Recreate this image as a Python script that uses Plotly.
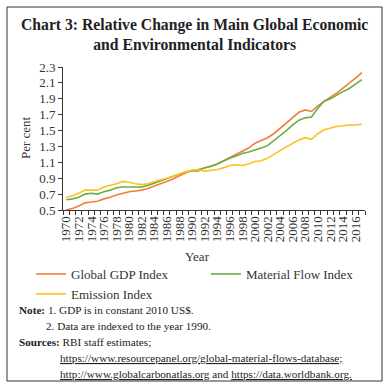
import plotly.graph_objects as go

years = list(range(1970, 2018))
gdp_index = [0.50, 0.52, 0.55, 0.59, 0.60, 0.61, 0.64, 0.66, 0.69, 0.71,
             0.73, 0.74, 0.75, 0.77, 0.80, 0.83, 0.86, 0.89, 0.93, 0.97,
             1.00, 1.01, 1.03, 1.05, 1.08, 1.12, 1.16, 1.20, 1.23, 1.28,
             1.34, 1.37, 1.41, 1.46, 1.53, 1.59, 1.66, 1.73, 1.76, 1.74,
             1.81, 1.87, 1.92, 1.97, 2.03, 2.09, 2.16, 2.23]
material_index = [0.63, 0.64, 0.66, 0.70, 0.71, 0.70, 0.73, 0.75, 0.78, 0.79,
                  0.79, 0.79, 0.79, 0.81, 0.84, 0.86, 0.89, 0.92, 0.95, 0.98,
                  0.99, 0.99, 1.03, 1.05, 1.08, 1.12, 1.15, 1.18, 1.21, 1.23,
                  1.26, 1.28, 1.31, 1.37, 1.44, 1.50, 1.57, 1.63, 1.66, 1.67,
                  1.78, 1.87, 1.90, 1.95, 1.99, 2.03, 2.08, 2.14]
emission_index = [0.66, 0.68, 0.71, 0.75, 0.75, 0.75, 0.79, 0.81, 0.83, 0.86,
                  0.85, 0.83, 0.82, 0.83, 0.86, 0.88, 0.90, 0.93, 0.96, 0.98,
                  1.00, 1.01, 0.99, 1.00, 1.01, 1.03, 1.06, 1.07, 1.06, 1.08,
                  1.11, 1.12, 1.15, 1.20, 1.25, 1.30, 1.34, 1.38, 1.41, 1.39,
                  1.46, 1.51, 1.53, 1.55, 1.56, 1.57, 1.57, 1.58]
y_ticks = [0.5, 0.7, 0.9, 1.1, 1.3, 1.5, 1.7, 1.9, 2.1, 2.3]
x_tick_years = list(range(1970, 2017, 2))

W, H = 388, 389
L, R, T, B = 63, 365, 67, 210
FONT = "Liberation Serif"
TXT = "#333"

def px(x):
    return (x - L) / (R - L)

def py(y):
    return (B - y) / (B - T)

fig = go.Figure()
fig.add_trace(go.Scatter(x=years, y=gdp_index, mode="lines", name="Global GDP Index",
                         line=dict(color="#F07F3C", width=1.6), legend="legend", legendrank=1))
fig.add_trace(go.Scatter(x=years, y=material_index, mode="lines", name="Material Flow Index",
                         line=dict(color="#6AAE45", width=1.6), legend="legend2"))
fig.add_trace(go.Scatter(x=years, y=emission_index, mode="lines", name="Emission Index",
                         line=dict(color="#FFC020", width=1.6), legend="legend", legendrank=2))

leg_common = dict(orientation="v", xref="container", yref="container",
                  xanchor="left", yanchor="top", tracegroupgap=0,
                  font=dict(family=FONT, size=13, color=TXT),
                  bgcolor="rgba(0,0,0,0)", borderwidth=0)

fig.update_layout(
    width=W, height=H,
    margin=dict(l=L, r=W - R, t=T, b=H - B, autoexpand=False),
    paper_bgcolor="white", plot_bgcolor="white",
    font=dict(family=FONT, size=12, color=TXT),
    showlegend=True,
    legend=dict(x=31 / W, y=1 - 259 / H, **leg_common),
    legend2=dict(x=206 / W, y=1 - 259 / H, **leg_common),
)

fig.update_xaxes(
    range=[1969.5, 2017.5], automargin=False,
    tickmode="array", tickvals=x_tick_years, ticktext=[str(v) for v in x_tick_years],
    tickangle=-90, ticks="", showline=True, linecolor=TXT, linewidth=1,
    showgrid=False, zeroline=False,
    tickfont=dict(family=FONT, size=13, color=TXT),
    minor=dict(tick0=1969.5, dtick=1, ticks="outside", ticklen=4, tickcolor=TXT, showgrid=False),
)
fig.update_yaxes(
    range=[0.5, 2.3], automargin=False, tickmode="array", tickvals=y_ticks,
    ticktext=[f"{v:.1f}" for v in y_ticks],
    ticks="outside", ticklen=4, tickcolor=TXT,
    showline=True, linecolor=TXT, linewidth=1,
    showgrid=False, zeroline=False,
    tickfont=dict(family=FONT, size=13, color=TXT),
)

# axis titles
fig.add_annotation(xref="paper", yref="paper", x=px(197), y=py(256), xanchor="center", yanchor="middle",
                   text="Year", showarrow=False, font=dict(family=FONT, size=13, color=TXT))
fig.add_annotation(xref="paper", yref="paper", x=px(25), y=py(138), xanchor="center", yanchor="middle",
                   text="Per cent", textangle=-90, showarrow=False, font=dict(family=FONT, size=13, color=TXT))

# frame
fig.add_shape(type="rect", xref="paper", yref="paper",
              x0=px(7), x1=px(382), y0=py(381), y1=py(7),
              line=dict(color="#333", width=1), fillcolor="rgba(0,0,0,0)", layer="below")

# title
fig.add_annotation(xref="paper", yref="paper", x=px(194), y=py(34.5), xanchor="center", yanchor="middle",
                   text="<b>Chart 3: Relative Change in Main Global Economic<br>and Environmental Indicators</b>",
                   showarrow=False, font=dict(family=FONT, size=15.7, color="#222"), align="center")

notes = [
    (17, 310, "<b>Note:</b> 1. GDP is in constant 2010 US$."),
    (44, 326, "2. Data are indexed to the year 1990."),
    (17, 342, "<b>Sources:</b> RBI staff estimates;"),
    (58, 358, "<u>https://www.resourcepanel.org/global-material-flows-database;</u>"),
    (58, 374, "<u>http://www.globalcarbonatlas.org</u> and <u>https://data.worldbank.org.</u>"),
]
for x, y, t in notes:
    fig.add_annotation(xref="paper", yref="paper", x=px(x), y=py(y), xanchor="left", yanchor="middle",
                       text=t, showarrow=False, font=dict(family=FONT, size=11.2, color="#222"), align="left")

fig.write_html("out.html", config={"displayModeBar": False},
               post_script="document.body.style.margin='0px';")
